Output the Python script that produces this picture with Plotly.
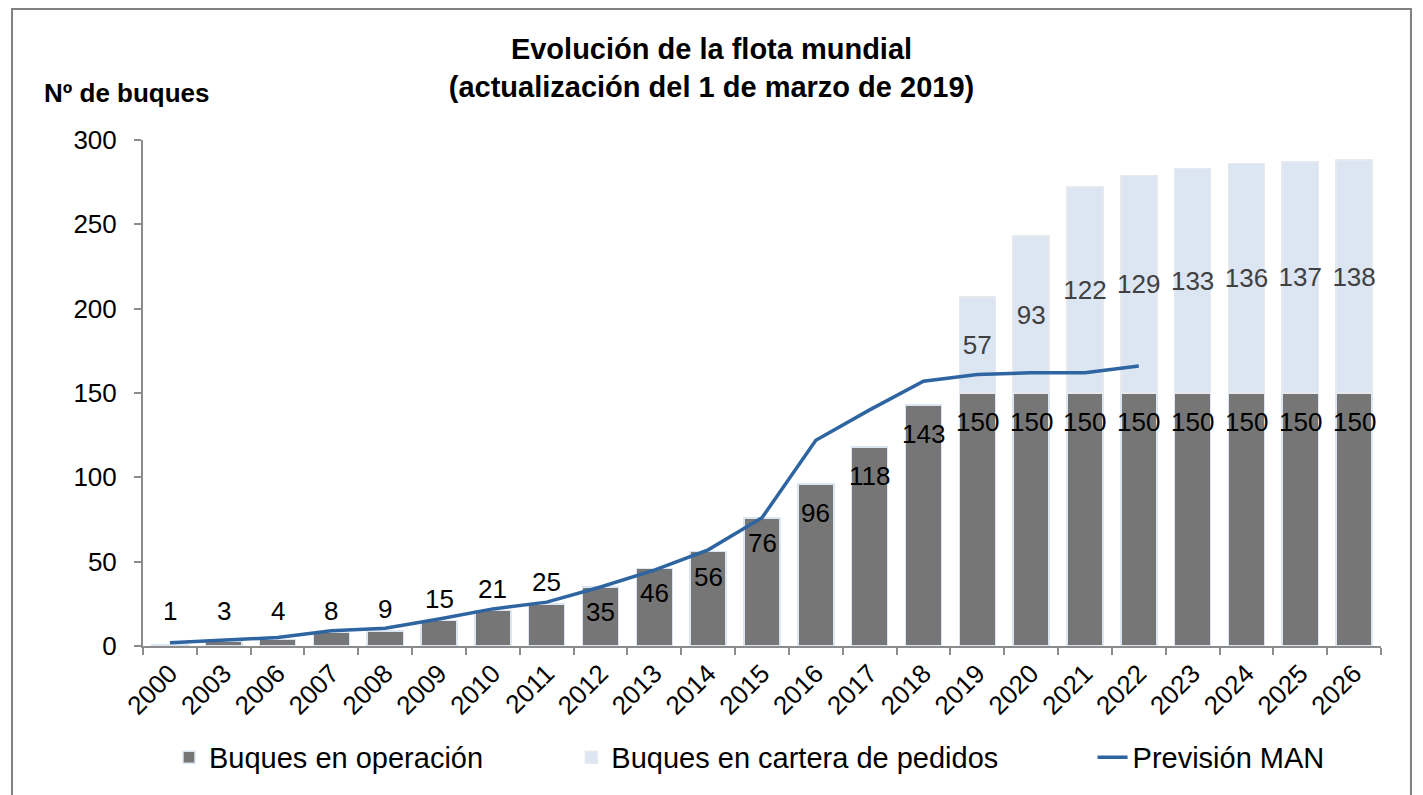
import plotly.graph_objects as go

# Datos
years = ['2000', '2003', '2006', '2007', '2008', '2009', '2010', '2011', '2012',
         '2013', '2014', '2015', '2016', '2017', '2018', '2019', '2020', '2021',
         '2022', '2023', '2024', '2025', '2026']
operacion = [1, 3, 4, 8, 9, 15, 21, 25, 35, 46, 56, 76, 96, 118, 143,
             150, 150, 150, 150, 150, 150, 150, 150]
cartera = [None] * 15 + [57, 93, 122, 129, 133, 136, 137, 138]
prevision_years = years[:19]
prevision_man = [2, 3.5, 5, 9, 10.5, 16, 22, 26, 35, 45, 57, 76, 122, 140,
                 157, 161, 162, 162, 166]

FONT = 'Liberation Sans, Arial, sans-serif'
GRIS = '#767676'
AZUL_CLARO = '#dce6f2'
AZUL = '#2e64a0'
EJE = '#8c8c8c'

# la página añade 8 px de margen al body
W, H = 1407, 787

fig = go.Figure()

fig.add_trace(go.Bar(
    x=years, y=operacion, name='Buques en operación',
    marker=dict(color=GRIS, line=dict(color=AZUL_CLARO, width=1.5)),
    legend='legend', hoverinfo='x+y'
))

fig.add_trace(go.Bar(
    x=years, y=cartera, name='Buques en cartera de pedidos',
    marker=dict(color=AZUL_CLARO, line=dict(color='#e6e9ee', width=1.5)),
    text=[str(v) if v else '' for v in cartera],
    textposition='inside', insidetextanchor='middle',
    textfont=dict(family=FONT, size=26, color='#404040'),
    textangle=0, constraintext='none',
    legend='legend2', hoverinfo='x+y'
))

fig.add_trace(go.Scatter(
    x=prevision_years, y=prevision_man, name='Previsión MAN',
    mode='lines', line=dict(color=AZUL, width=3.5),
    legend='legend3'
))

# Etiquetas de los buques en operación (x por índice de categoría)
for i, v in enumerate(operacion):
    if v < 30:
        fig.add_annotation(x=i, y=max(v, 8), text=str(v), showarrow=False,
                           yanchor='bottom', yshift=5,
                           font=dict(family=FONT, size=26, color='black'))
    else:
        fig.add_annotation(x=i, y=v, text=str(v), showarrow=False,
                           yanchor='top', yshift=-12 if v >= 90 else -8,
                           font=dict(family=FONT, size=26, color='black'))

# Etiqueta del eje Y
fig.add_annotation(xref='paper', yref='paper', x=-0.0816, y=1.093,
                   xanchor='left', yanchor='middle', showarrow=False,
                   text='<b>Nº de buques</b>',
                   font=dict(family=FONT, size=26, color='black'))

# Marco exterior
fig.add_shape(type='rect', xref='paper', yref='paper',
              x0=-0.1058, x1=1.0242, y0=-0.32, y1=1.259,
              line=dict(color='#808080', width=2), layer='below')

legend_common = dict(orientation='h', yref='paper', y=-0.22, yanchor='middle',
                     xanchor='left', bgcolor='rgba(0,0,0,0)',
                     font=dict(family=FONT, size=29, color='black'))

fig.update_layout(
    width=W, height=H,
    margin=dict(l=135, r=34, t=132, b=149, autoexpand=False),
    paper_bgcolor='white', plot_bgcolor='white',
    barmode='stack', bargap=0.33,
    title=dict(
        text='<b>Evolución de la flota mundial<br>(actualización del 1 de marzo de 2019)</b>',
        x=0.5, xref='container', xanchor='center',
        y=1 - 51 / H, yref='container', yanchor='top',
        font=dict(family=FONT, size=29, color='black')
    ),
    font=dict(family=FONT, size=26, color='black'),
    legend=dict(x=0.021, **legend_common),
    legend2=dict(x=0.346, **legend_common),
    legend3=dict(x=0.767, **legend_common),
    showlegend=True,
)

fig.update_xaxes(
    type='category', showgrid=False, showline=True, linecolor=EJE, linewidth=2,
    ticks='outside', tickson='boundaries', ticklen=7, tickcolor=EJE, tickwidth=2,
    tickangle=-45, tickfont=dict(family=FONT, size=26, color='black'),
    zeroline=False
)
fig.update_yaxes(
    range=[0, 300], dtick=50, showgrid=False, showline=True, linecolor=EJE,
    linewidth=2, ticks='outside', ticklen=7, tickcolor=EJE, tickwidth=2,
    ticklabelstandoff=12,
    tickfont=dict(family=FONT, size=26, color='black'), zeroline=False
)

fig.write_html('out.html')
